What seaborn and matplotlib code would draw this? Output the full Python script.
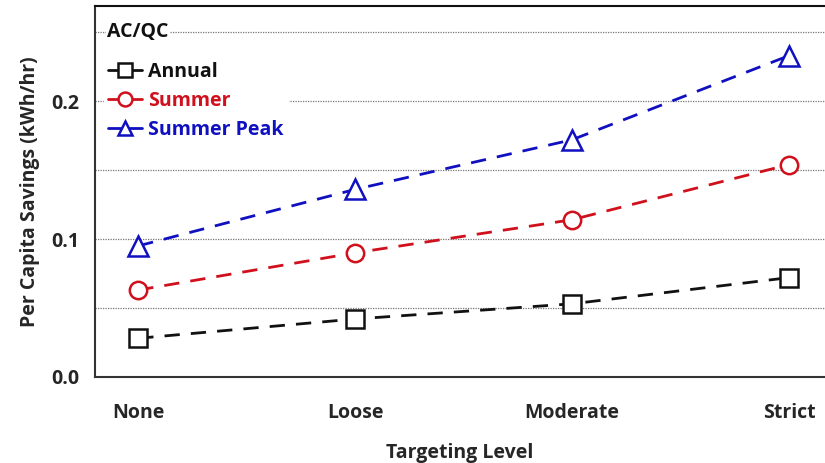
import matplotlib
matplotlib.use("Agg")
import matplotlib.pyplot as plt
import seaborn as sns
import pandas as pd
import numpy as np

levels = ["None", "Loose", "Moderate", "Strict"]
annual = [0.028, 0.042, 0.053, 0.072]
summer = [0.063, 0.090, 0.114, 0.154]
summer_peak = [0.095, 0.136, 0.172, 0.233]
series_names = ["Annual", "Summer", "Summer Peak"]
colors = ["#111111", "#d0101c", "#1010c0"]
markers = ["s", "o", "^"]

sns.set_theme(style="white")
plt.rcParams["font.family"] = ["Open Sans", "DejaVu Sans"]
plt.rcParams["font.weight"] = "bold"
FS = 14

df = pd.DataFrame({
    "pos": list(range(len(levels))) * 3,
    "value": annual + summer + summer_peak,
    "series": [s for s in series_names for _ in levels],
})

fig = plt.figure(figsize=(8.25, 4.63), dpi=100)
ax = fig.add_axes([0.115, 0.186, 0.885, 0.801])

for name, c, m in zip(series_names, colors, markers):
    sub = df[df["series"] == name]
    ms = 14 if m == "^" else 12.5
    sns.lineplot(data=sub, x="pos", y="value", ax=ax, color=c, marker=m,
                 markersize=ms, markerfacecolor="white", markeredgecolor=c,
                 markeredgewidth=1.8, linewidth=2.0, dashes=False,
                 linestyle=(0, (5.5, 4)), label=name, zorder=3)

ax.set_xlim(-0.2, 3.166)
ax.set_ylim(0, 0.269)
ax.set_xticks(range(len(levels)))
ax.set_xticklabels(levels, fontsize=FS, fontweight="bold")
yt = [0.0, 0.05, 0.1, 0.15, 0.2, 0.25]
ax.set_yticks(yt)
ax.set_yticklabels(["0.0", "", "0.1", "", "0.2", ""], fontsize=FS, fontweight="bold")
for y in yt[1:]:
    ax.axhline(y, color="#777777", linestyle=(0, (1, 1)), linewidth=0.9, zorder=1)

ax.tick_params(axis="y", direction="out", length=7, width=1.2, color="#444444", pad=4)
ax.tick_params(axis="x", direction="out", length=9, width=1.2, color="#444444", pad=10)
for side in ["left", "bottom", "top"]:
    ax.spines[side].set_visible(True)
    ax.spines[side].set_color("#333333")
    ax.spines[side].set_linewidth(1.5)
ax.spines["right"].set_visible(False)
ax.spines["top"].set_color("#111111")

ax.set_xlabel("Targeting Level", fontsize=FS, fontweight="bold", labelpad=14)
ax.set_ylabel("Per Capita Savings (kWh/hr)", fontsize=FS, fontweight="bold", labelpad=8)

leg = ax.legend(loc="upper left", bbox_to_anchor=(0.004, 0.875), frameon=True,
                fontsize=FS, handlelength=1.75, handletextpad=0.35,
                labelspacing=0.46, borderpad=0.2, borderaxespad=0.3)
leg.get_frame().set_facecolor("white")
leg.get_frame().set_edgecolor("white")
leg.get_frame().set_alpha(1)
leg.set_zorder(5)
for txt, c in zip(leg.get_texts(), colors):
    txt.set_color(c)
    txt.set_fontweight("bold")
for h in leg.legend_handles:
    h.set_linestyle("-")
    h.set_markersize(10)

ax.text(0.017, 0.25, "AC/QC", transform=ax.get_yaxis_transform(), fontsize=FS,
        fontweight="bold", color="#111111", va="center", ha="left",
        bbox=dict(facecolor="white", edgecolor="none", pad=1), zorder=6)

fig.savefig("out.png", dpi=100)
